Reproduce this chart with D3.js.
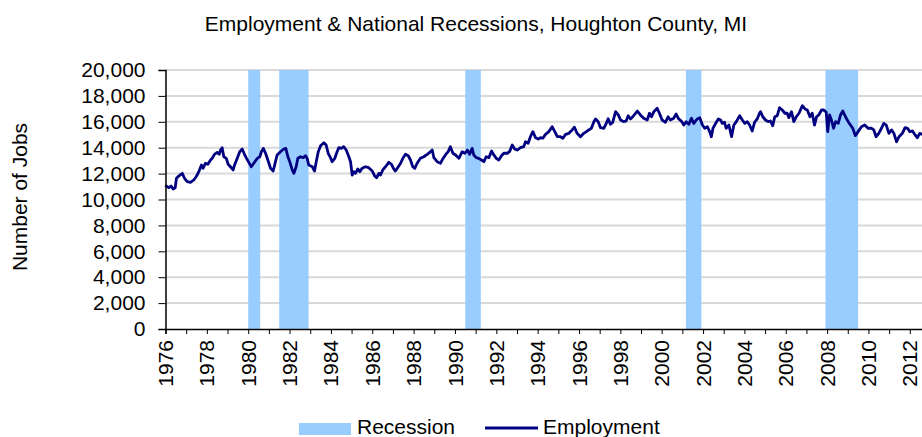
<!DOCTYPE html>
<html>
<head>
<meta charset="utf-8">
<script src="https://cdn.jsdelivr.net/npm/d3@7"></script>
<style>
  html, body { margin: 0; padding: 0; background: #fff; }
  svg { display: block; font-family: Arial, "Liberation Sans", sans-serif; }
</style>
</head>
<body>
<svg id="chart" width="922" height="437"></svg>
<script>
// ---------- data ----------
const title = "Employment & National Recessions, Houghton County, MI";
const yAxisTitle = "Number of Jobs";
const seriesNames = ["Recession", "Employment"];

// National recessions (start, end) in decimal years
const recessionStart = [1980.0, 1981.5, 1990.5, 2001.17, 2007.92];
const recessionEnd   = [1980.58, 1982.92, 1991.25, 2001.92, 2009.5];

// Employment (decimal year, jobs)
const years = [
1976.0,1976.05,1976.16,1976.27,1976.37,1976.47,1976.53,1976.64,1976.81,1976.92,1977.05,1977.21,1977.37,1977.48,1977.53,1977.61,1977.74,1977.82,1977.93,
1978.05,1978.18,1978.26,1978.37,1978.5,1978.6,1978.66,1978.74,1978.82,1978.94,1979.03,1979.14,1979.27,1979.34,1979.47,1979.59,1979.71,1979.82,1979.92,
1980.03,1980.15,1980.27,1980.44,1980.56,1980.64,1980.73,1980.84,1980.95,1981.08,1981.21,1981.32,1981.4,1981.56,1981.72,1981.82,1981.92,
1982.01,1982.13,1982.21,1982.32,1982.4,1982.53,1982.66,1982.77,1982.85,1982.93,1983.1,1983.21,1983.29,1983.39,1983.5,1983.66,1983.77,1983.87,1983.98,
1984.06,1984.19,1984.3,1984.38,1984.51,1984.62,1984.74,1984.87,1984.95,1985.03,1985.11,1985.19,1985.3,1985.4,1985.51,1985.67,1985.83,
1986.0,1986.11,1986.21,1986.32,1986.4,1986.51,1986.64,1986.8,1986.93,1987.04,1987.12,1987.26,1987.37,1987.48,1987.61,1987.74,1987.85,1987.96,
1988.06,1988.17,1988.33,1988.49,1988.66,1988.82,1988.9,1988.98,1989.14,1989.3,1989.41,1989.54,1989.67,1989.78,1989.9,
1990.03,1990.19,1990.35,1990.48,1990.6,1990.71,1990.83,1990.91,1991.03,1991.15,1991.28,1991.4,1991.51,1991.64,1991.77,1991.88,
1992.0,1992.12,1992.25,1992.36,1992.53,1992.64,1992.77,1992.89,1993.01,1993.17,1993.33,1993.41,1993.54,1993.65,1993.77,1993.9,
1994.03,1994.14,1994.25,1994.38,1994.54,1994.7,1994.83,1994.95,1995.1,1995.22,1995.35,1995.51,1995.67,1995.78,1995.91,
1996.07,1996.23,1996.36,1996.47,1996.6,1996.72,1996.8,1996.93,1997.04,1997.2,1997.32,1997.41,1997.52,1997.63,1997.77,1997.9,
1998.01,1998.17,1998.28,1998.38,1998.49,1998.6,1998.82,1998.97,1999.13,1999.3,1999.41,1999.51,1999.62,1999.78,1999.89,
2000.02,2000.18,2000.31,2000.42,2000.58,2000.7,2000.82,2000.95,2001.07,2001.18,2001.31,2001.44,2001.55,2001.72,2001.84,2001.97,
2002.08,2002.21,2002.32,2002.4,2002.48,2002.61,2002.74,2002.85,2002.93,2003.04,2003.12,2003.25,2003.38,2003.49,2003.61,2003.77,2003.9,
2004.02,2004.14,2004.25,2004.38,2004.49,2004.62,2004.73,2004.78,2004.89,2005.02,2005.15,2005.26,2005.37,2005.47,2005.59,2005.7,2005.83,2005.96,
2006.07,2006.15,2006.28,2006.39,2006.51,2006.64,2006.8,2006.93,2007.04,2007.17,2007.28,2007.39,2007.49,2007.6,2007.73,2007.84,2007.96,
2008.03,2008.12,2008.21,2008.31,2008.41,2008.54,2008.65,2008.76,2008.89,2009.02,2009.13,2009.24,2009.37,2009.5,2009.66,2009.82,2009.98,
2010.15,2010.26,2010.37,2010.5,2010.63,2010.74,2010.86,2010.99,2011.12,2011.23,2011.36,2011.48,2011.64,2011.77,2011.89,
2012.0,2012.13,2012.26,2012.37,2012.48,2012.61,2012.75
];
const jobs = [
10950,11040,10910,11040,10810,10910,11640,11810,12020,11640,11380,11330,11510,11760,11890,12150,12660,12410,12800,
12720,13050,13180,13490,13640,13490,13820,14000,13300,13180,12720,12530,12280,12660,13180,13690,13900,13490,13180,
12870,12530,12800,13180,13300,13690,13950,13570,13050,12410,12200,12920,13440,13690,13900,13950,13300,
12920,12280,12020,12530,13180,13300,13230,13380,13180,12660,12530,12200,12920,13690,14150,14390,14210,13570,13230,
12920,13180,13690,14000,13950,14080,13820,13300,12920,11890,12150,12020,12360,12150,12410,12530,12460,
12200,11840,11680,12020,11890,12280,12530,12870,12720,12360,12200,12530,12800,13180,13490,13380,13050,12530,
12410,12800,13180,13300,13490,13690,13820,13230,12920,12800,13130,13440,13690,14080,13570,
13440,13180,13690,13570,13820,13490,13950,13440,13230,13180,13050,12920,13300,13230,13750,13440,
13180,13050,13380,13570,13570,13690,14210,13900,13820,14000,14080,14460,14340,14850,15240,14770,
14670,14770,14730,15030,15240,15620,15240,14850,14850,14730,15030,15110,15370,15580,15110,
14850,15110,15240,15370,15500,16010,16220,16010,15550,15500,15880,16240,15810,15960,16780,16530,
16140,16010,16060,16470,16220,16390,16830,16530,16270,16140,16660,16390,16780,17040,16660,
16140,15960,16390,16140,16270,16600,16220,16060,15750,16010,15810,16270,15880,16220,16320,15750,
15500,15620,15240,14850,15500,15880,16220,16140,15880,15960,15500,15750,14850,15750,16010,16470,16140,
15880,16010,15750,15290,15960,16220,16660,16780,16390,16140,16010,16060,15700,16390,16470,17090,16910,16660,
16660,16320,16780,16010,16390,16660,17240,16990,16910,16390,16660,15750,16390,16530,16910,16910,16730,
15240,16530,16140,15500,16010,15880,16530,16830,16390,16010,15750,15500,14930,15240,15620,15750,15500,
15500,15370,14850,15110,15500,15880,15750,15110,15370,15110,14460,14850,15110,15550,15500,
15240,15290,14980,14770,15110,15030,14950
];

const yTicks = [0,2000,4000,6000,8000,10000,12000,14000,16000,18000,20000];
const xLabelYears = [1976,1978,1980,1982,1984,1986,1988,1990,1992,1994,1996,1998,2000,2002,2004,2006,2008,2010,2012];
const xMinorYears = d3.range(1976, 2014);

// ---------- layout ----------
const svg = d3.select("#chart");
const plotLeft = 165.5, plotTop = 70, plotBottom = 329;
const x = d3.scaleLinear().domain([1976, 2013]).range([plotLeft, plotLeft + 37 * 20.675]);
const y = d3.scaleLinear().domain([0, 20000]).range([plotBottom, plotTop]);
const fontSize = 21;

// gridlines
svg.append("g").selectAll("line").data(yTicks.filter(d => d > 0)).join("line")
  .attr("x1", plotLeft).attr("x2", 922)
  .attr("y1", d => y(d)).attr("y2", d => y(d))
  .attr("stroke", "#d9d9d9").attr("stroke-width", 2);

// recessions
svg.append("g").selectAll("rect").data(recessionStart).join("rect")
  .attr("x", d => x(d))
  .attr("width", (d, i) => x(recessionEnd[i]) - x(d))
  .attr("y", y(20000)).attr("height", y(0) - y(20000))
  .attr("fill", "#99CCFF");

// employment line
const pts = years.map((t, i) => [t, jobs[i]]);
svg.append("path").datum(pts)
  .attr("fill", "none").attr("stroke", "#000080").attr("stroke-width", 2.8)
  .attr("stroke-linejoin", "round")
  .attr("d", d3.line().x(d => x(d[0])).y(d => y(d[1])));

// y axis
const yAxis = svg.append("g").attr("transform", `translate(${plotLeft},0)`)
  .call(d3.axisLeft(y).tickValues(yTicks).tickSize(7).tickPadding(13)
    .tickFormat(d3.format(",")));
yAxis.select(".domain").attr("stroke", "#000").attr("stroke-width", 1.5);
yAxis.selectAll(".tick line").attr("stroke", "#000");
yAxis.selectAll("text").attr("font-size", fontSize).attr("font-family", "Arial, 'Liberation Sans', sans-serif").attr("fill", "#000");

// x axis
const xAxis = svg.append("g").attr("transform", `translate(0,${plotBottom})`)
  .call(d3.axisBottom(x).tickValues(xMinorYears).tickSize(5).tickFormat(""));
xAxis.select(".domain").attr("stroke", "#000").attr("stroke-width", 1.5);
xAxis.selectAll(".tick line").attr("stroke", "#000");

svg.append("g").selectAll("text").data(xLabelYears).join("text")
  .attr("transform", d => `translate(${x(d)},${plotBottom + 11}) rotate(-90)`)
  .attr("text-anchor", "end").attr("dy", "0.36em")
  .attr("font-size", fontSize).attr("fill", "#000")
  .text(d => d);

// title
svg.append("text").attr("x", 476).attr("y", 31).attr("text-anchor", "middle")
  .attr("font-size", fontSize).attr("fill", "#000").text(title);

// y axis title
svg.append("text").attr("transform", `translate(27,197) rotate(-90)`)
  .attr("text-anchor", "middle").attr("font-size", fontSize).attr("fill", "#000")
  .text(yAxisTitle);

// legend
const lg = svg.append("g");
lg.append("rect").attr("x", 299).attr("y", 423).attr("width", 52).attr("height", 12).attr("fill", "#99CCFF");
lg.append("text").attr("x", 357).attr("y", 434).attr("font-size", fontSize).attr("fill", "#000").text(seriesNames[0]);
lg.append("line").attr("x1", 485).attr("x2", 538).attr("y1", 428).attr("y2", 428)
  .attr("stroke", "#000080").attr("stroke-width", 2.8);
lg.append("text").attr("x", 543).attr("y", 434).attr("font-size", fontSize).attr("fill", "#000").text(seriesNames[1]);
</script>
</body>
</html>
